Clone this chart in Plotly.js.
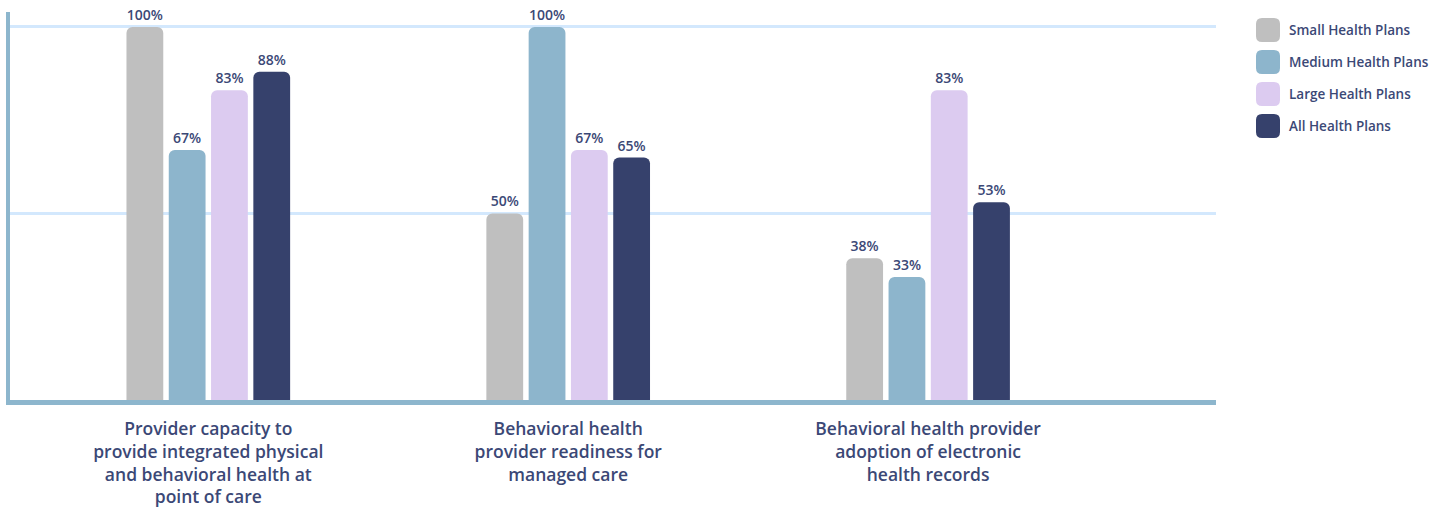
<!DOCTYPE html>
<html>
<head>
<meta charset="utf-8">
<script src="https://cdn.plot.ly/plotly-3.0.1.min.js"></script>
<style>html,body{margin:0;padding:0;background:#fff;}#chart{width:1440px;height:511px;}</style>
</head>
<body>
<div id="chart"></div>
<script>
const categories = [
  "Provider capacity to<br>provide integrated physical<br>and behavioral health at<br>point of care",
  "Behavioral health<br>provider readiness for<br>managed care",
  "Behavioral health provider<br>adoption of electronic<br>health records"
];
const seriesNames = ["Small Health Plans", "Medium Health Plans", "Large Health Plans", "All Health Plans"];
const seriesColors = ["#bfbfbf", "#8db5cc", "#dccbf0", "#36416c"];
const smallPlans = [100, 50, 38];
const mediumPlans = [67, 100, 33];
const largePlans = [83, 67, 83];
const allPlans = [88, 65, 53];
const seriesValues = [smallPlans, mediumPlans, largePlans, allPlans];
const gridVals = [50, 100];

const textColor = "#3b4876";
const fontFam = "'Open Sans', 'DejaVu Sans', sans-serif";

const traces = seriesValues.map((vals, i) => ({
  type: "bar",
  name: seriesNames[i],
  x: categories,
  y: vals,
  text: vals.map(v => v + "%"),
  textposition: "outside",
  cliponaxis: false,
  textfont: {family: fontFam, size: 14, color: textColor, weight: 600},
  marker: {color: seriesColors[i], cornerradius: 6},
  hoverinfo: "skip",
  showlegend: false
}));

// plot area geometry (pixels) for legend placement
const L = 10, R = 224, T = 12, B = 111, W = 1440, H = 511;
const pw = W - L - R, ph = H - T - B;
const px = p => (p - L) / pw;
const py = p => (H - B - p) / ph;

const shapes = [];
const annotations = [];
seriesNames.forEach((n, i) => {
  const cy = 30 + i * 32;
  shapes.push({
    type: "path", xref: "paper", yref: "paper",
    xsizemode: "pixel", ysizemode: "pixel",
    xanchor: px(1268), yanchor: py(cy),
    path: "M -6,-12 L 6,-12 Q 12,-12 12,-6 L 12,6 Q 12,12 6,12 L -6,12 Q -12,12 -12,6 L -12,-6 Q -12,-12 -6,-12 Z",
    fillcolor: seriesColors[i], line: {width: 0}
  });
  annotations.push({
    xref: "paper", yref: "paper", x: px(1287), y: py(cy),
    xanchor: "left", yanchor: "middle", showarrow: false,
    text: n, font: {family: fontFam, size: 13.5, color: textColor, weight: 600}
  });
});

const layout = {
  width: W, height: H,
  margin: {l: L, r: R, t: T, b: B, pad: 0},
  paper_bgcolor: "#ffffff", plot_bgcolor: "#ffffff",
  barmode: "group",
  bargap: 0.53,
  bargroupgap: 0.13,
  showlegend: false,
  xaxis: {
    type: "category",
    range: [-0.551, 2.8],
    showline: true, linecolor: "#8db6cd", linewidth: 5,
    showgrid: false, zeroline: false, ticks: "",
    tickfont: {family: fontFam, size: 17.5, color: textColor, weight: 600},
    ticklabelstandoff: 9,
    fixedrange: true
  },
  yaxis: {
    range: [0, 104],
    showline: true, linecolor: "#8db6cd", linewidth: 4,
    tickvals: gridVals, showticklabels: false, ticks: "",
    showgrid: true, gridcolor: "#d3e8fd", gridwidth: 3,
    zeroline: false, fixedrange: true
  },
  shapes: shapes,
  annotations: annotations,
  font: {family: fontFam, color: textColor}
};

Plotly.newPlot("chart", traces, layout, {staticPlot: true, displayModeBar: false});
</script>
</body>
</html>
